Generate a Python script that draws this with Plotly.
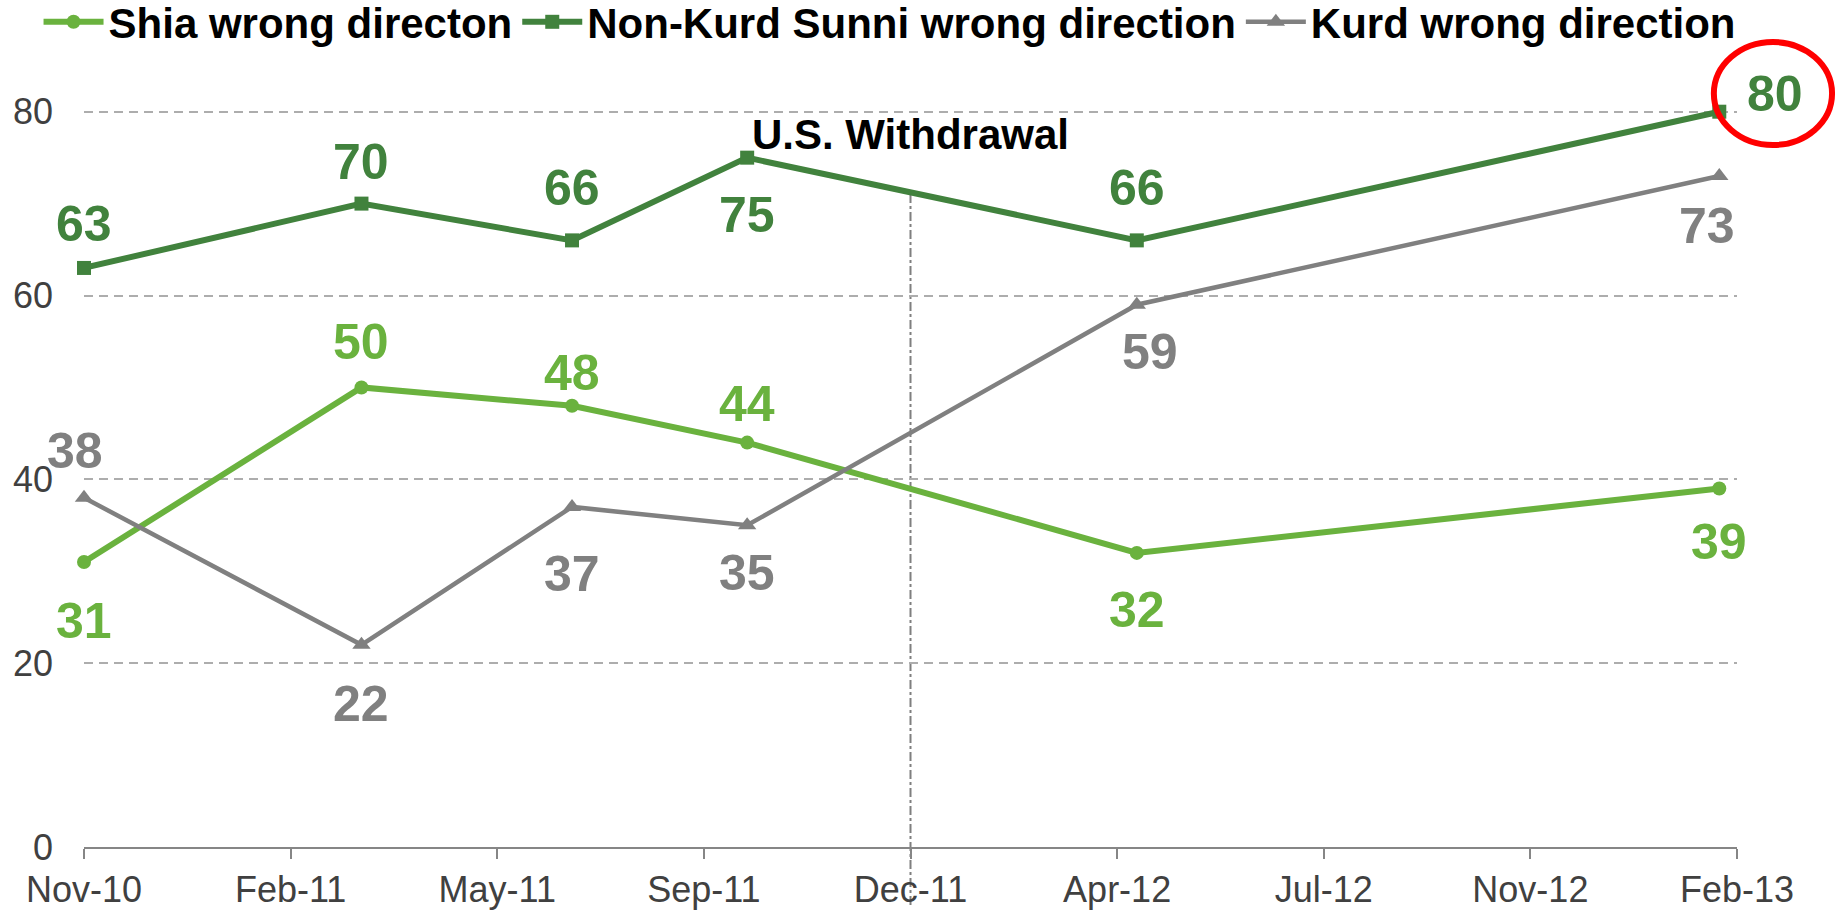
import plotly.graph_objects as go

# ---- data ----
dates = ["2010-11-01", "2011-03-22", "2011-07-07", "2011-10-04", "2012-04-19", "2013-02-09"]
shia = [31, 50, 48, 44, 32, 39]
sunni = [63, 70, 66, 75, 66, 80]
kurd = [38, 22, 37, 35, 59, 73]

tick_dates = ["2010-11-01", "2011-02-14", "2011-05-30", "2011-09-12", "2011-12-26",
              "2012-04-09", "2012-07-23", "2012-11-05", "2013-02-18"]
tick_labels = ["Nov-10", "Feb-11", "May-11", "Sep-11", "Dec-11",
               "Apr-12", "Jul-12", "Nov-12", "Feb-13"]
y_ticks = [0, 20, 40, 60, 80]
withdrawal_date = "2011-12-26"
withdrawal_text = "U.S. Withdrawal"

names = ["Shia wrong directon", "Non-Kurd Sunni wrong direction", "Kurd wrong direction"]

# ---- styles / label placement (pixel offsets: dx right, dy down) ----
colors = ["#6AB23E", "#41823D", "#808080"]
symbols = ["circle", "square", "triangle-up"]
msizes = [14, 14, 16]
lwidths = [6, 6, 4.5]
label_offsets = [
    [(0, 59), (0, -45), (0, -33), (0, -39), (0, 57), (0, 53)],
    [(0, -44), (0, -42), (0, -52), (0, 57), (0, -52), (56, -18)],
    [(-9, -47), (0, 59), (0, 67), (0, 48), (13, 47), (-12, 50)],
]

FONT = "Liberation Sans, Arial, sans-serif"
series = [shia, sunni, kurd]

fig = go.Figure()
for i, vals in enumerate(series):
    fig.add_trace(go.Scatter(
        x=dates, y=vals, name=names[i], mode="lines+markers",
        line=dict(color=colors[i], width=lwidths[i]),
        marker=dict(symbol=symbols[i], size=msizes[i], color=colors[i]),
        cliponaxis=False,
    ))

annotations = []
for i, vals in enumerate(series):
    for j, v in enumerate(vals):
        dx, dy = label_offsets[i][j]
        annotations.append(dict(
            x=dates[j], y=v, xref="x", yref="y", text=str(v), showarrow=False,
            xanchor="center", yanchor="middle", xshift=dx, yshift=-dy,
            font=dict(family=FONT, size=50, color=colors[i], weight="bold"),
        ))

annotations.append(dict(
    x=withdrawal_date, y=77.5, xref="x", yref="y", text=withdrawal_text,
    showarrow=False, xanchor="center", yanchor="middle",
    font=dict(family=FONT, size=42, color="#000000", weight="bold"),
))

shapes = [
    dict(type="line", xref="x", yref="paper", x0=withdrawal_date, x1=withdrawal_date,
         y0=-0.0733, y1=0.8306, line=dict(color="#7F7F7F", width=2, dash="dashdot"), layer="below"),
    dict(type="circle", xref="paper", yref="paper", x0=0.9860, x1=1.0575,
         y0=0.8875, y1=1.0177, line=dict(color="#FF0000", width=6)),
]

fig.update_layout(
    width=1837, height=912,
    margin=dict(l=84, r=100, t=56, b=65, autoexpand=False),
    paper_bgcolor="white", plot_bgcolor="white",
    font=dict(family=FONT, color="#404040"),
    showlegend=True,
    legend=dict(
        orientation="h", x=-0.0275, xanchor="left", y=1.0, yanchor="bottom",
        font=dict(family=FONT, size=42, color="#000000", weight="bold"),
        itemwidth=60, bgcolor="rgba(0,0,0,0)", tracegroupgap=0,
    ),
    annotations=annotations,
    shapes=shapes,
    xaxis=dict(
        type="date", range=[tick_dates[0], tick_dates[-1]],
        tickmode="array", tickvals=tick_dates, ticktext=tick_labels,
        showgrid=False, zeroline=False,
        showline=True, linecolor="#868686", linewidth=2,
        ticks="outside", ticklen=10, tickwidth=2, tickcolor="#868686",
        tickfont=dict(family=FONT, size=36, color="#404040"),
        ticklabelstandoff=0,
    ),
    yaxis=dict(
        range=[0, 86.06], tickmode="array", tickvals=y_ticks,
        showgrid=True, gridcolor="#ADADAD", gridwidth=2, griddash="9px,6px",
        zeroline=False, showline=False, ticks="",
        tickfont=dict(family=FONT, size=36, color="#404040"),
        ticklabelstandoff=30,
    ),
)

fig.write_html("out.html", config={"displayModeBar": False},
               post_script="document.body.style.margin='0';")
